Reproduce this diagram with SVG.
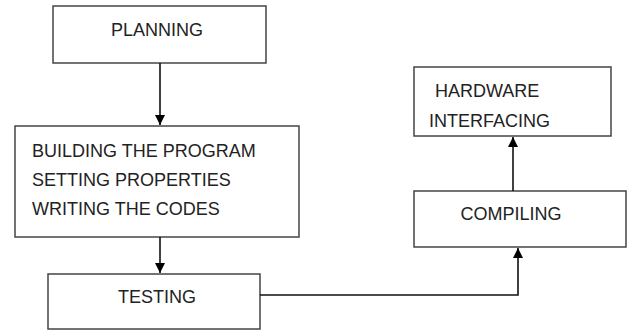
<svg xmlns="http://www.w3.org/2000/svg" width="628" height="331" viewBox="0 0 628 331">
<style>
.box{fill:#fff;stroke:#444;stroke-width:1.5}
.t{font-family:"Liberation Sans",Arial,sans-serif;font-size:18px;fill:#222}
.c{stroke:#111;stroke-width:1.6;fill:none}
</style>
<defs>
<marker id="ah" viewBox="0 0 10 10" refX="10" refY="5" markerWidth="10" markerHeight="10" markerUnits="userSpaceOnUse" orient="auto">
<path d="M0,0 L10,5 L0,10 z" fill="#000"/>
</marker>
</defs>
<rect width="628" height="331" fill="#fff"/>
<g id="planning"><rect class="box" x="53" y="6" width="213" height="57"/><text class="t" x="157" y="36" text-anchor="middle">PLANNING</text></g>
<g id="building"><rect class="box" x="15" y="126" width="284" height="111"/>
<text class="t" x="32" y="157">BUILDING THE PROGRAM</text>
<text class="t" x="32" y="186">SETTING PROPERTIES</text>
<text class="t" x="32" y="215">WRITING THE CODES</text></g>
<g id="testing"><rect class="box" x="48" y="274" width="212" height="55"/><text class="t" x="157" y="303" text-anchor="middle">TESTING</text></g>
<g id="compiling"><rect class="box" x="414" y="191" width="212" height="56"/><text class="t" x="511" y="220" text-anchor="middle">COMPILING</text></g>
<g id="hardware"><rect class="box" x="414" y="67" width="197" height="69"/>
<text class="t" x="435" y="97">HARDWARE</text>
<text class="t" x="429" y="127">INTERFACING</text></g>
<g id="connectors">
<line class="c" x1="160" y1="63" x2="160" y2="125" marker-end="url(#ah)"/>
<line class="c" x1="160" y1="237" x2="160" y2="273" marker-end="url(#ah)"/>
<polyline class="c" points="260,295 518,295 518,248" marker-end="url(#ah)"/>
<line class="c" x1="513" y1="191" x2="513" y2="137" marker-end="url(#ah)"/>
</g>
</svg>
